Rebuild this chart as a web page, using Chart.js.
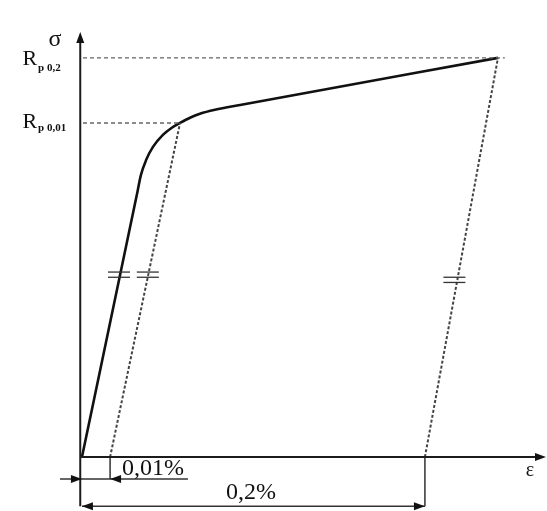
<!DOCTYPE html>
<html>
<head>
<meta charset="utf-8">
<script src="https://cdn.jsdelivr.net/npm/chart.js@4"></script>
<style>
    html, body { margin: 0; padding: 0; background: #fff; }
    #wrap { width: 547px; height: 511px; }
</style>
</head>
<body>
<div id="wrap"><canvas id="diagram"></canvas></div>
<script>
// Stress-strain sketch, normalised units: Rp0,2 = 100, 0,2% offset = 100 (not to scale)
const curveStrain = [0, 16.0, 17.2, 18.7, 20.7, 23.6, 26.2, 28.6, 31.5, 34.4, 38.8, 46.1, 121.3];
const curveStress = [0, 65.7, 70.7, 74.4, 77.7, 80.7, 82.5, 83.7, 85.0, 86.0, 87.0, 88.2, 100];

const rp001 = 83.7;          // Rp0,01 level
const rp02 = 100;            // Rp0,2 level
const offsetSmall = 8.2;     // 0,01% offset foot
const offsetLarge = 100;     // 0,2% offset foot
const offsetSmallTop = 28.6;
const offsetLargeTop = 121.3;

// axes / dimension line extents
const axisTop = 106.5;
const axisRight = 135.3;
const dimSmallY = -5.5;
const dimLargeY = -12.3;

// arrow heads
const arrowX = [-0.5, axisRight, 0, offsetSmall, 0, offsetLarge];
const arrowY = [axisTop, 0, dimSmallY, dimSmallY, dimLargeY, dimLargeY];
const arrowDir = ['up', 'right', 'right', 'left', 'left', 'right'];

// "=" marks showing the parallel lines
const hatchX = [10.8, 19.2, 108.6];
const hatchY = [45.7, 45.7, 44.4];

// texts
const labelText = ['σ', 'R', 'p 0,2', 'R', 'p 0,01', 'ε', '0,01%', '0,2%'];
const labelX = [-7.9, -15.2, -12.8, -15.2, -12.8, 130.6, 11.7, 49.3];
const labelY = [104.5, 99.7, 97.4, 84.0, 82.4, -3.3, -3.0, -9.0];
const labelFont = [
    '24px "Liberation Serif"', '22px "Liberation Serif"', 'bold 11px "Liberation Serif"',
    '22px "Liberation Serif"', 'bold 11px "Liberation Serif"', '20px "Liberation Serif"',
    '24px "Liberation Serif"', '24px "Liberation Serif"'
];
const labelAlign = ['center', 'center', 'left', 'center', 'left', 'center', 'left', 'center'];

function pts(xs, ys) {
    return xs.map((x, i) => ({ x: x, y: ys[i] }));
}

function seg(xs, ys, style) {
    return Object.assign({
        data: pts(xs, ys),
        pointRadius: 0,
        fill: false,
        borderWidth: 1.5,
        borderColor: '#222',
        tension: 0,
    }, style);
}

const solidAxis = { borderColor: '#1b1b1b', borderWidth: 2 };
const levelDash = { borderColor: '#666', borderWidth: 1.4, borderDash: [4, 3] };
const offsetDash = { borderColor: '#444', borderWidth: 2, borderDash: [3, 2] };
const dimLine = { borderColor: '#333', borderWidth: 1.5 };

const datasets = [
    // axes
    seg([-0.5, -0.5], [dimLargeY, axisTop - 2], solidAxis),
    seg([-0.5, axisRight - 2], [0, 0], solidAxis),
    // proof stress levels
    seg([0.3, offsetLargeTop + 2], [rp02, rp02], levelDash),
    seg([0.3, offsetSmallTop], [rp001, rp001], levelDash),
    // offset lines
    seg([offsetSmall, offsetSmallTop], [0, rp001], offsetDash),
    seg([offsetLarge, offsetLargeTop], [0, rp02], offsetDash),
    // dimension lines
    seg([offsetSmall, offsetSmall], [0, dimSmallY], dimLine),
    seg([-6.4, 30.9], [dimSmallY, dimSmallY], dimLine),
    seg([offsetLarge, offsetLarge], [0, dimLargeY], dimLine),
    seg([0, offsetLarge], [dimLargeY, dimLargeY], dimLine),
    // the curve
    seg(curveStrain, curveStress, { borderColor: '#111', borderWidth: 2.6, cubicInterpolationMode: 'monotone' }),
];

function drawArrow(ctx, x, y, dir) {
    const len = 11, half = 4;
    const d = { up: [0, -1], down: [0, 1], left: [-1, 0], right: [1, 0] }[dir];
    const bx = x - d[0] * len, by = y - d[1] * len;
    ctx.beginPath();
    ctx.moveTo(x, y);
    ctx.lineTo(bx - d[1] * half, by + d[0] * half);
    ctx.lineTo(bx + d[1] * half, by - d[0] * half);
    ctx.closePath();
    ctx.fill();
}

const sketchPlugin = {
    id: 'sketch',
    afterDatasetsDraw(chart) {
        const { ctx, scales } = chart;
        const px = v => scales.x.getPixelForValue(v);
        const py = v => scales.y.getPixelForValue(v);
        ctx.save();
        ctx.fillStyle = '#111';

        arrowX.forEach((ax, i) => drawArrow(ctx, px(ax), py(arrowY[i]), arrowDir[i]));

        // "=" marks
        ctx.strokeStyle = '#333';
        ctx.lineWidth = 1.3;
        hatchX.forEach((hx, i) => {
            const cx = px(hx), cy = py(hatchY[i]);
            [-2.6, 2.6].forEach(off => {
                ctx.beginPath();
                ctx.moveTo(cx - 11, cy + off);
                ctx.lineTo(cx + 11, cy + off);
                ctx.stroke();
            });
        });

        // texts
        ctx.textBaseline = 'middle';
        labelText.forEach((t, i) => {
            ctx.font = labelFont[i];
            ctx.textAlign = labelAlign[i];
            ctx.fillText(t, px(labelX[i]), py(labelY[i]));
        });
        ctx.restore();
    }
};

new Chart(document.getElementById('diagram').getContext('2d'), {
    type: 'line',
    data: { datasets: datasets },
    options: {
        responsive: true,
        maintainAspectRatio: false,
        animation: false,
        layout: { padding: 0, autoPadding: false },
        scales: {
            x: { type: 'linear', min: -23.9, max: 135.6, display: false },
            y: { type: 'linear', min: -13.5, max: 114.5, display: false },
        },
        plugins: {
            legend: { display: false },
            tooltip: { enabled: false },
        },
    },
    plugins: [sketchPlugin],
});
</script>
</body>
</html>
